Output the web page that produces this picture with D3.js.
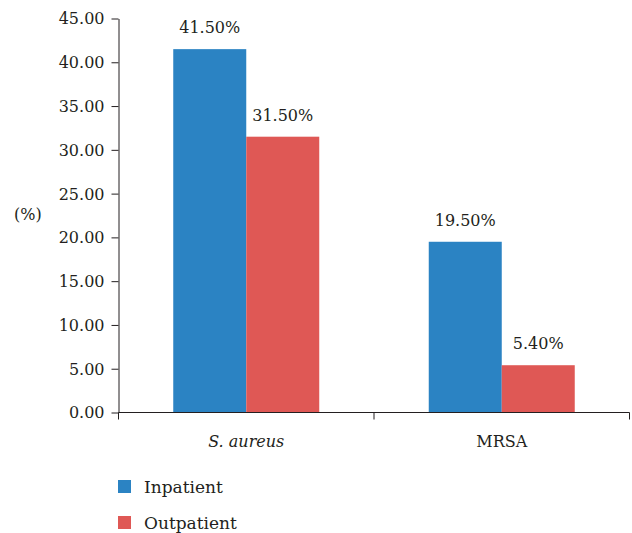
<!DOCTYPE html>
<html><head><meta charset="utf-8">
<script src="https://cdn.jsdelivr.net/npm/d3@7"></script>
<style>body{margin:0;background:#fff}svg{display:block}</style>
</head><body>
<script>
const categories = ["S. aureus", "MRSA"];
const seriesNames = ["Inpatient", "Outpatient"];
const inpatient = [41.5, 19.5];
const outpatient = [31.5, 5.4];
const valueLabels = [["41.50%", "19.50%"], ["31.50%", "5.40%"]];
const yTicks = [0, 5, 10, 15, 20, 25, 30, 35, 40, 45];
const colors = ["#2b83c3", "#df5855"];

const FONT = "'DejaVu Serif', serif";
const INK = "#231f20";
const W = 632, H = 533;
const svg = d3.select("body").append("svg").attr("width", W).attr("height", H)
  .attr("font-family", FONT);
const x0 = 118.5, x1 = 629.5, yTop = 18.5, yBot = 412.5;

const x = d3.scaleBand().domain(categories).range([x0, x1]).paddingInner(0).paddingOuter(0);
const y = d3.scaleLinear().domain([0, 45]).range([yBot, yTop]);
const sub = d3.scaleBand().domain(seriesNames).range([0, x.bandwidth()]).paddingInner(0).paddingOuter(0.75);

const series = [inpatient, outpatient];
series.forEach((vals, si) => {
  svg.append("g").selectAll("rect").data(vals).join("rect")
    .attr("x", (d, i) => x(categories[i]) + sub(seriesNames[si]))
    .attr("width", sub.bandwidth())
    .attr("y", d => y(d))
    .attr("height", d => y(0) - y(d))
    .attr("fill", colors[si]);
  svg.append("g").selectAll("text").data(vals).join("text")
    .attr("x", (d, i) => x(categories[i]) + sub(seriesNames[si]) + sub.bandwidth() / 2)
    .attr("y", d => y(d) - 16)
    .attr("text-anchor", "middle")
    .attr("font-family", FONT)
    .attr("font-size", 16)
    .attr("fill", INK)
    .text((d, i) => valueLabels[si][i]);
});

// y axis
const yAxis = d3.axisLeft(y).tickValues(yTicks).tickSize(7).tickSizeOuter(0).tickFormat(d3.format(".2f"));
const gy = svg.append("g").attr("transform", `translate(${x0},0)`).call(yAxis)
  .attr("font-family", FONT);
gy.select(".domain").attr("stroke", INK);
gy.selectAll(".tick line").attr("stroke", INK);
gy.selectAll(".tick text").attr("font-size", 16).attr("x", -14).attr("dy", "0.34em")
  .attr("font-family", FONT).attr("fill", INK);

// x axis
const gx = svg.append("g").attr("transform", `translate(0,${yBot})`);
gx.append("line").attr("x1", x0).attr("x2", x1).attr("stroke", INK);
const boundaries = [x0, ...categories.map(c => x(c) + x.bandwidth())];
gx.selectAll("line.tk").data(boundaries).join("line").attr("class", "tk")
  .attr("x1", d => d).attr("x2", d => d).attr("y1", 0).attr("y2", 7).attr("stroke", INK);
gx.selectAll("text").data(categories).join("text")
  .attr("x", d => x(d) + x.bandwidth() / 2)
  .attr("y", 34)
  .attr("text-anchor", "middle")
  .attr("font-family", FONT)
  .attr("font-size", 16)
  .attr("fill", INK)
  .attr("font-style", (d, i) => i === 0 ? "italic" : "normal")
  .text(d => d);

svg.append("text").attr("x", 14).attr("y", 220).attr("font-size", 16)
  .attr("font-family", FONT).attr("fill", INK).text("(%)");

// legend
const lg = svg.append("g");
seriesNames.forEach((s, i) => {
  lg.append("rect").attr("x", 118).attr("y", 480 + i * 36).attr("width", 13).attr("height", 13).attr("fill", colors[i]);
  lg.append("text").attr("x", 144).attr("y", 493 + i * 36).attr("font-size", 17)
    .attr("font-family", FONT).attr("fill", INK).text(s);
});
</script>
</body></html>
